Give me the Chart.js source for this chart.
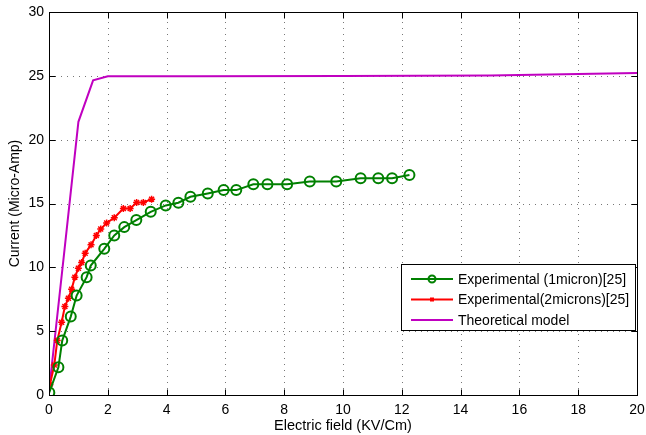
<!DOCTYPE html>
<html>
<head>
<meta charset="utf-8">
<script src="https://cdn.jsdelivr.net/npm/chart.js@4/dist/chart.umd.min.js"></script>
<style>
html,body{margin:0;padding:0;background:#fff;}
#wrap{position:relative;width:646px;height:435px;}
</style>
</head>
<body>
<div id="wrap"><canvas id="c" width="646" height="435"></canvas></div>
<script>
// ---- data ----
const xTicks = [0, 2, 4, 6, 8, 10, 12, 14, 16, 18, 20];
const yTicks = [0, 5, 10, 15, 20, 25, 30];

const seriesNames = ['Experimental (1micron)[25]', 'Experimental(2microns)[25]', 'Theoretical model'];

const exp1X = [0.01, 0.32, 0.45, 0.74, 0.94, 1.28, 1.42, 1.88, 2.22, 2.56, 2.97, 3.46, 3.97, 4.4, 4.81, 5.4, 5.94, 6.37, 6.95, 7.43, 8.1, 8.87, 9.77, 10.6, 11.2, 11.67, 12.26];
const exp1Y = [0.2, 2.17, 4.26, 6.14, 7.79, 9.23, 10.14, 11.45, 12.5, 13.15, 13.7, 14.35, 14.85, 15.06, 15.53, 15.79, 16.05, 16.05, 16.5, 16.5, 16.5, 16.73, 16.73, 16.97, 16.97, 16.97, 17.23];

const exp2X = [0.03, 0.18, 0.28, 0.43, 0.54, 0.66, 0.77, 0.88, 1.0, 1.11, 1.23, 1.43, 1.61, 1.76, 1.96, 2.22, 2.53, 2.76, 2.98, 3.21, 3.49];
const exp2Y = [0.8, 2.35, 4.26, 5.7, 6.93, 7.58, 8.29, 9.23, 9.93, 10.37, 11.1, 11.76, 12.5, 13.0, 13.47, 13.88, 14.6, 14.6, 15.08, 15.08, 15.34];

const theoX = [0, 0.5, 1.0, 1.5, 2.0, 5, 10, 15, 20];
const theoY = [0.3, 10.8, 21.4, 24.65, 24.96, 24.96, 24.98, 25.02, 25.22];

const colors = ['#008000', '#ff0000', '#c000c0'];

const toXY = (xs, ys) => xs.map((x, i) => ({x: x, y: ys[i]}));

const FONT = '"Liberation Sans", Arial, Helvetica, sans-serif';

const matlabAxes = {
  id: 'matlabAxes',
  beforeDatasetsDraw(chart) {
    const {ctx, chartArea: a, scales: {x, y}} = chart;
    ctx.save();
    ctx.strokeStyle = '#777';
    ctx.lineWidth = 1;
    ctx.setLineDash([1, 5]);
    xTicks.forEach(v => {
      if (v === xTicks[0] || v === xTicks[xTicks.length - 1]) return;
      const px = Math.round(x.getPixelForValue(v)) + 0.5;
      ctx.beginPath(); ctx.moveTo(px, a.bottom); ctx.lineTo(px, a.top); ctx.stroke();
    });
    yTicks.forEach(v => {
      if (v === yTicks[0] || v === yTicks[yTicks.length - 1]) return;
      const py = Math.round(y.getPixelForValue(v)) + 0.5;
      ctx.beginPath(); ctx.moveTo(a.left, py); ctx.lineTo(a.right, py); ctx.stroke();
    });
    ctx.restore();
  },
  afterDatasetsDraw(chart) {
    const {ctx, chartArea: a, scales: {x, y}} = chart;
    ctx.save();
    ctx.setLineDash([]);
    ctx.strokeStyle = '#000';
    ctx.lineWidth = 1;
    const L = Math.round(a.left) + 0.5, R = Math.round(a.right) + 0.5;
    const T = Math.round(a.top) + 0.5, B = Math.round(a.bottom) + 0.5;
    ctx.strokeRect(L, T, R - L, B - T);
    const tl = 6;
    xTicks.forEach(v => {
      const px = Math.round(x.getPixelForValue(v)) + 0.5;
      ctx.beginPath();
      ctx.moveTo(px, B); ctx.lineTo(px, B - tl);
      ctx.moveTo(px, T); ctx.lineTo(px, T + tl);
      ctx.stroke();
    });
    yTicks.forEach(v => {
      const py = Math.round(y.getPixelForValue(v)) + 0.5;
      ctx.beginPath();
      ctx.moveTo(L, py); ctx.lineTo(L + tl, py);
      ctx.moveTo(R, py); ctx.lineTo(R - tl, py);
      ctx.stroke();
    });
    // legend
    const bx = 401.5, by = 264.5, bw = 234, bh = 66;
    ctx.fillStyle = '#fff';
    ctx.fillRect(bx, by, bw, bh);
    ctx.strokeStyle = '#000';
    ctx.strokeRect(bx, by, bw, bh);
    const rows = [279, 299.5, 320];
    ctx.font = '14px ' + FONT;
    ctx.textBaseline = 'middle';
    ctx.textAlign = 'left';
    seriesNames.forEach((name, i) => {
      const ry = rows[i];
      ctx.strokeStyle = colors[i];
      ctx.lineWidth = 2;
      ctx.beginPath(); ctx.moveTo(411, ry); ctx.lineTo(453, ry); ctx.stroke();
      if (i === 0) {
        ctx.beginPath(); ctx.arc(432, ry, 3.5, 0, Math.PI * 2); ctx.stroke();
      } else if (i === 1) {
        ctx.fillStyle = colors[i];
        ctx.fillRect(430, ry - 2, 4, 4);
      }
      ctx.fillStyle = '#000';
      ctx.fillText(name, 458, ry + 1);
    });
    ctx.restore();
  }
};

new Chart(document.getElementById('c'), {
  type: 'scatter',
  data: {
    datasets: [
      {
        label: seriesNames[0],
        data: toXY(exp1X, exp1Y),
        showLine: true,
        borderColor: colors[0],
        backgroundColor: 'rgba(0,0,0,0)',
        borderWidth: 2,
        pointStyle: 'circle',
        pointRadius: 5,
        pointBorderWidth: 2,
        pointBorderColor: colors[0],
        pointBackgroundColor: 'rgba(0,0,0,0)',
        tension: 0
      },
      {
        label: seriesNames[1],
        data: toXY(exp2X, exp2Y),
        showLine: true,
        borderColor: colors[1],
        backgroundColor: colors[1],
        borderWidth: 2,
        pointStyle: 'star',
        pointRadius: 3.5,
        pointBorderWidth: 1.5,
        pointBorderColor: colors[1],
        tension: 0
      },
      {
        label: seriesNames[2],
        data: toXY(theoX, theoY),
        showLine: true,
        borderColor: colors[2],
        backgroundColor: colors[2],
        borderWidth: 2,
        pointRadius: 0,
        tension: 0
      }
    ]
  },
  options: {
    responsive: false,
    animation: false,
    events: [],
    layout: {padding: {left: 0, right: 9, top: 12, bottom: 0}, autoPadding: false},
    plugins: {legend: {display: false}, tooltip: {enabled: false}},
    scales: {
      x: {
        type: 'linear', min: 0, max: 20,
        afterBuildTicks: s => { s.ticks = xTicks.map(v => ({value: v})); },
        afterFit: s => { s.height = 40; s.paddingLeft = 0; s.paddingRight = 0; },
        grid: {display: false, drawTicks: false},
        border: {display: false},
        ticks: {color: '#000', font: {family: FONT, size: 14}, padding: 7, maxRotation: 0, autoSkip: false},
        title: {display: true, text: 'Electric field (KV/Cm)', color: '#000', font: {family: FONT, size: 14.5}, padding: {top: 0, bottom: 0}}
      },
      y: {
        type: 'linear', min: 0, max: 30,
        afterBuildTicks: s => { s.ticks = yTicks.map(v => ({value: v})); },
        afterFit: s => { s.width = 49; s.paddingTop = 0; s.paddingBottom = 0; },
        grid: {display: false, drawTicks: false},
        border: {display: false},
        ticks: {color: '#000', font: {family: FONT, size: 14}, padding: 5, autoSkip: false},
        title: {display: true, text: 'Current (Micro-Amp)', color: '#000', font: {family: FONT, size: 14}, padding: {top: 7, bottom: 0}}
      }
    }
  },
  plugins: [matlabAxes]
});
</script>
</body>
</html>
